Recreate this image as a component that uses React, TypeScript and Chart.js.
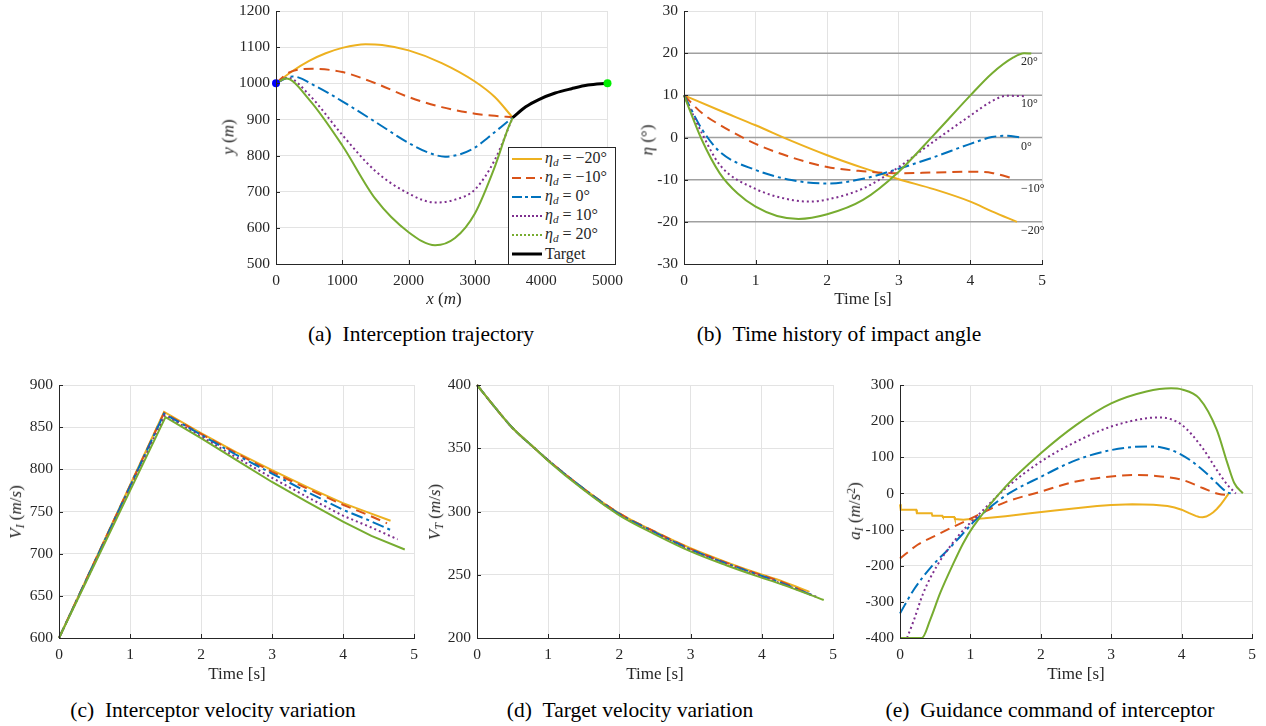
import React, { useEffect, useRef } from "react";
import { Chart, registerables } from "chart.js";
Chart.register(...registerables);

const SERIF = '"Liberation Serif", "Times New Roman", serif';
const AXIS = "#262626";
const GRID = "#e3e3e3";
const REF = "#a0a0a0";
const ORANGE = "#EDB120";
const RED = "#D95319";
const BLUE = "#0072BD";
const PURPLE = "#7E2F8E";
const GREEN = "#77AC30";

// ---------- (a) Interception trajectory ----------
const A_X_M20 = [0, 250, 500, 750, 1000, 1350, 1600, 2000, 2500, 3000, 3300, 3570];
const A_Y_M20 = [1000, 1034, 1062, 1083, 1098, 1108, 1106, 1091, 1056, 1005, 962, 905];
const A_X_M10 = [0, 200, 550, 1000, 1500, 2000, 2500, 3000, 3300, 3570];
const A_Y_M10 = [1000, 1030, 1040, 1031, 1000, 962, 934, 916, 910, 906];
const A_X_0 = [0, 250, 600, 1000, 1500, 2000, 2300, 2550, 2800, 3000, 3200, 3400, 3570];
const A_Y_0 = [1000, 1019, 992, 950, 893, 835, 808, 797, 805, 822, 850, 880, 905];
const A_X_10 = [0, 180, 500, 1000, 1500, 2000, 2400, 2700, 3000, 3300, 3570];
const A_Y_10 = [1000, 1015, 968, 857, 757, 695, 670, 678, 706, 788, 905];
const A_X_20 = [0, 150, 500, 1000, 1500, 2000, 2400, 2700, 3000, 3300, 3500, 3570];
const A_Y_20 = [1000, 1013, 955, 828, 680, 588, 552, 572, 640, 769, 875, 905];
const TARGET_X = [3570, 3767, 3964, 4211, 4458, 4705, 5000];
const TARGET_Y = [905, 935, 955, 973, 985, 995, 1000];
const START_PT_X = [0];
const START_PT_Y = [1000];
const END_PT_X = [5000];
const END_PT_Y = [1000];
const A_X_TICKS = [0, 5000, 1000];
const A_Y_TICKS = [500, 1200, 100];

// ---------- (b) Impact angle ----------
const B_T_M20 = [0, 0.5, 1, 1.5, 2, 2.5, 3, 3.5, 4, 4.3, 4.65];
const B_E_M20 = [10, 6.4, 2.9, -0.8, -4.2, -7.2, -9.9, -12.3, -15.2, -17.5, -20];
const B_T_M10 = [0, 0.25, 0.5, 1, 1.5, 2, 2.5, 3, 3.5, 4, 4.3, 4.62];
const B_E_M10 = [10, 5.8, 3, -1.5, -4.7, -7, -8, -8.5, -8.3, -8.1, -8.4, -9.8];
const B_T_0 = [0, 0.25, 0.5, 1, 1.5, 2, 2.5, 3, 3.5, 4, 4.3, 4.5, 4.7];
const B_E_0 = [10, 2, -3.4, -7.7, -10.1, -10.9, -9.8, -7.4, -4.6, -1.5, 0.1, 0.4, 0];
const B_T_10 = [0, 0.25, 0.5, 1, 1.5, 1.75, 2, 2.5, 3, 3.5, 4, 4.3, 4.5, 4.75];
const B_E_10 = [10, 1, -6.5, -12.2, -14.8, -15.2, -14.7, -12.1, -7, -0.8, 5.2, 8.6, 9.9, 9.8];
const B_T_20 = [0, 0.25, 0.5, 0.75, 1, 1.3, 1.6, 2, 2.5, 3, 3.5, 4, 4.3, 4.6, 4.75, 4.85];
const B_E_20 = [10, -0.6, -8.5, -13.3, -16.4, -18.6, -19.3, -18.2, -14.8, -8.1, 0.8, 10, 15.2, 19, 20, 19.9];
const B_REF_LEVELS = [20, 10, 0, -10, -20];
const B_REF_LABELS = ["20°", "10°", "0°", "−10°", "−20°"];
const B_X_TICKS = [0, 5, 1];
const B_Y_TICKS = [-30, 30, 10];

// ---------- (c) Interceptor velocity ----------
const C_T_M20 = [0, 1.48, 2, 2.5, 3, 3.5, 4, 4.35, 4.67];
const C_V_M20 = [600, 868, 843, 820, 799, 779, 760, 749, 739];
const C_T_M10 = [0, 1.48, 2, 2.5, 3, 3.5, 4, 4.35, 4.62];
const C_V_M10 = [600, 867, 842, 819, 797, 777, 758, 746, 736];
const C_T_0 = [0, 1.48, 2, 2.5, 3, 3.5, 4, 4.35, 4.7];
const C_V_0 = [600, 866, 841, 817, 795, 773, 752, 740, 727];
const C_T_10 = [0, 1.49, 2, 2.5, 3, 3.5, 4, 4.4, 4.77];
const C_V_10 = [600, 864, 839, 814, 790, 767, 745, 731, 717];
const C_T_20 = [0, 1.5, 2, 2.5, 3, 3.5, 4, 4.4, 4.87];
const C_V_20 = [600, 862, 837, 811, 785, 761, 738, 721, 705];
const C_X_TICKS = [0, 5, 1];
const C_Y_TICKS = [600, 900, 50];

// ---------- (d) Target velocity ----------
const D_T_M20 = [0, 0.25, 0.5, 0.81, 1, 1.5, 2, 2.5, 3, 3.5, 3.9, 4.3, 4.67];
const D_V_M20 = [400, 382.5, 366, 350, 340.5, 318, 298.5, 284, 271, 260, 252, 244.5, 236.5];
const D_T_M10 = [0, 0.25, 0.5, 0.81, 1, 1.5, 2, 2.5, 3, 3.5, 3.9, 4.3, 4.62];
const D_V_M10 = [400, 382.5, 366, 350, 340.5, 318, 298.5, 284, 270.5, 259.5, 251.5, 244, 236];
const D_T_0 = [0, 0.25, 0.5, 0.81, 1, 1.5, 2, 2.5, 3, 3.5, 3.9, 4.3, 4.7];
const D_V_0 = [400, 382.5, 366, 350, 340.5, 318, 298, 283.5, 270, 259, 251, 243, 234];
const D_T_10 = [0, 0.25, 0.5, 0.81, 1, 1.5, 2, 2.5, 3, 3.5, 3.9, 4.3, 4.77];
const D_V_10 = [400, 382.5, 366, 350, 340.5, 317.5, 297.5, 283, 269.5, 258.5, 250.5, 242.5, 232.5];
const D_T_20 = [0, 0.25, 0.5, 0.81, 1, 1.5, 2, 2.5, 3, 3.5, 3.9, 4.3, 4.87];
const D_V_20 = [400, 382.5, 366, 350, 340, 317, 297, 282, 268.5, 257.5, 249.5, 242, 230];
const D_X_TICKS = [0, 5, 1];
const D_Y_TICKS = [200, 400, 50];

// ---------- (e) Guidance command ----------
const E_T_M20 = [0, 0.01, 0.23, 0.24, 0.45, 0.46, 0.6, 0.61, 0.77, 0.78, 0.9, 1.0, 1.05, 1.1, 1.2, 1.5, 1.85, 2.2, 2.5, 2.8, 3, 3.3, 3.6, 3.8, 3.9, 4.0, 4.1, 4.2, 4.25, 4.3, 4.35, 4.4, 4.45, 4.5, 4.55, 4.6, 4.67];
const E_A_M20 = [-30, -45, -45, -55, -55, -62, -62, -65, -65, -71, -73, -71, -74, -70, -69, -63, -55, -47, -41, -35, -32, -30, -31, -35, -39, -45, -54, -62, -65, -66, -64, -59, -52, -43, -32, -19, 0];
const E_T_M10 = [0, 0.25, 0.5, 0.75, 1, 1.5, 2, 2.5, 3, 3.3, 3.6, 4, 4.3, 4.5, 4.62, 4.65];
const E_A_M10 = [-180, -142, -117, -93, -70, -24, 5, 33, 47, 51, 49, 38, 15, 0, -4, 0];
const E_T_0 = [0, 0.2, 0.45, 0.7, 0.9, 1.05, 1.5, 2, 2.5, 3, 3.5, 3.7, 4, 4.3, 4.5, 4.65, 4.7];
const E_A_0 = [-332, -265, -202, -152, -110, -78, -6, 46, 92, 120, 130, 128, 107, 65, 28, 3, 0];
const E_T_10 = [0.1, 0.2, 0.33, 0.52, 0.71, 0.9, 1.09, 1.5, 2, 2.5, 3, 3.5, 3.7, 4, 4.3, 4.5, 4.65, 4.77];
const E_A_10 = [-400, -349, -276, -202, -147, -101, -64, 14, 88, 143, 185, 208, 210, 190, 125, 65, 24, 0];
const E_T_20 = [0, 0.31, 0.43, 0.57, 0.76, 0.9, 1.04, 1.5, 2, 2.5, 3, 3.5, 3.85, 4, 4.25, 4.5, 4.65, 4.75, 4.87];
const E_A_20 = [-400, -400, -349, -276, -193, -137, -92, 19, 111, 189, 249, 282, 291, 288, 263, 176, 84, 28, 0];
const E_X_TICKS = [0, 5, 1];
const E_Y_TICKS = [-400, 300, 100];

// ---------- legend / styles ----------
const LEGEND_ANGLES = ["−20°", "−10°", "0°", "10°", "20°"];
const STYLES = [
  { color: ORANGE, dash: [] as number[] },
  { color: RED, dash: [10, 6] },
  { color: BLUE, dash: [12, 4, 3, 4] },
  { color: PURPLE, dash: [2, 3] },
  { color: GREEN, dash: [] as number[] },
];
const LEGEND_DASH = ["", "9 5", "10 3 3 3", "2 2", "2 2"];

// layout
const YW = 50, PT = 18, PR = 18, XH = 28;

function pts(xs: number[], ys: number[]) {
  return xs.map((x, i) => ({ x, y: ys[i] }));
}

function line(xs: number[], ys: number[], idx: number, smooth = true) {
  const st = STYLES[idx];
  return {
    data: pts(xs, ys),
    borderColor: st.color,
    backgroundColor: st.color,
    borderWidth: 2,
    borderDash: st.dash,
    pointRadius: 0,
    fill: false,
    clip: false,
    order: 10 - idx,
    tension: smooth ? 0.4 : 0,
    cubicInterpolationMode: smooth ? "monotone" : "default",
  };
}

function makeScales(xr: number[], yr: number[]) {
  const base = (r: number[], pad: number) => ({
    type: "linear",
    min: r[0],
    max: r[1],
    grid: { color: GRID, lineWidth: 1, drawTicks: false },
    border: { display: true, color: AXIS, width: 1, z: 1 },
    ticks: {
      stepSize: r[2],
      color: AXIS,
      padding: pad,
      autoSkip: false,
      maxRotation: 0,
      font: { family: SERIF, size: 15.5 },
      callback: (v: any) => String(v),
    },
  });
  const x: any = base(xr, 8);
  x.afterFit = (s: any) => { s.height = XH; };
  const y: any = base(yr, 6);
  y.afterFit = (s: any) => { s.width = YW; };
  return { x, y };
}

// small inward tick marks along the left and bottom axes
const tickMarkPlugin = {
  id: "tickMarks",
  afterDraw(chart: any) {
    const { ctx, chartArea, scales } = chart;
    ctx.save();
    ctx.strokeStyle = AXIS;
    ctx.lineWidth = 1;
    scales.x.ticks.forEach((t: any) => {
      const px = Math.round(scales.x.getPixelForValue(t.value)) + 0.5;
      ctx.beginPath();
      ctx.moveTo(px, chartArea.bottom);
      ctx.lineTo(px, chartArea.bottom - 4);
      ctx.stroke();
    });
    scales.y.ticks.forEach((t: any) => {
      const py = Math.round(scales.y.getPixelForValue(t.value)) + 0.5;
      ctx.beginPath();
      ctx.moveTo(chartArea.left, py);
      ctx.lineTo(chartArea.left + 4, py);
      ctx.stroke();
    });
    ctx.restore();
  },
};

function makeConfig(datasets: any[], xr: number[], yr: number[], plugins: any[] = []) {
  return {
    type: "line",
    data: { datasets },
    options: {
      responsive: false,
      maintainAspectRatio: false,
      animation: false,
      events: [],
      layout: { padding: { top: PT, right: PR, left: 0, bottom: 0 } },
      plugins: { legend: { display: false }, tooltip: { enabled: false } },
      scales: makeScales(xr, yr),
    },
    plugins: [...plugins, tickMarkPlugin],
  };
}

const refPlugin = {
  id: "refLines",
  beforeDatasetsDraw(chart: any) {
    const { ctx, chartArea, scales } = chart;
    ctx.save();
    ctx.strokeStyle = REF;
    ctx.lineWidth = 1.5;
    B_REF_LEVELS.forEach((v) => {
      const py = scales.y.getPixelForValue(v);
      ctx.beginPath();
      ctx.moveTo(chartArea.left, py);
      ctx.lineTo(chartArea.right, py);
      ctx.stroke();
    });
    ctx.restore();
  },
  afterDatasetsDraw(chart: any) {
    const { ctx, chartArea, scales } = chart;
    ctx.save();
    ctx.fillStyle = AXIS;
    ctx.font = `12px ${SERIF}`;
    ctx.textAlign = "left";
    ctx.textBaseline = "top";
    B_REF_LEVELS.forEach((v, i) => {
      const py = scales.y.getPixelForValue(v);
      ctx.fillText(B_REF_LABELS[i], chartArea.right - 21, py + 3);
    });
    ctx.restore();
  },
};

function configA() {
  const ds: any[] = [
    line(A_X_M20, A_Y_M20, 0),
    line(A_X_M10, A_Y_M10, 1),
    line(A_X_0, A_Y_0, 2),
    line(A_X_10, A_Y_10, 3),
    line(A_X_20, A_Y_20, 4),
    {
      data: pts(TARGET_X, TARGET_Y), borderColor: "#000000", borderWidth: 3, pointRadius: 0,
      fill: false, clip: false, order: 2, tension: 0.4, cubicInterpolationMode: "monotone",
    },
    {
      data: pts(START_PT_X, START_PT_Y), showLine: false, pointRadius: 4, pointBorderWidth: 0,
      pointBackgroundColor: "#0000ff", borderColor: "#0000ff", clip: false, order: 0,
    },
    {
      data: pts(END_PT_X, END_PT_Y), showLine: false, pointRadius: 4, pointBorderWidth: 0,
      pointBackgroundColor: "#00ee00", borderColor: "#00ee00", clip: false, order: 0,
    },
  ];
  return makeConfig(ds, A_X_TICKS, A_Y_TICKS);
}

function configB() {
  return makeConfig(
    [line(B_T_M20, B_E_M20, 0), line(B_T_M10, B_E_M10, 1), line(B_T_0, B_E_0, 2), line(B_T_10, B_E_10, 3), line(B_T_20, B_E_20, 4)],
    B_X_TICKS, B_Y_TICKS, [refPlugin]
  );
}
function configC() {
  return makeConfig(
    [line(C_T_M20, C_V_M20, 0, false), line(C_T_M10, C_V_M10, 1, false), line(C_T_0, C_V_0, 2, false), line(C_T_10, C_V_10, 3, false), line(C_T_20, C_V_20, 4, false)],
    C_X_TICKS, C_Y_TICKS
  );
}
function configD() {
  return makeConfig(
    [line(D_T_M20, D_V_M20, 0), line(D_T_M10, D_V_M10, 1), line(D_T_0, D_V_0, 2), line(D_T_10, D_V_10, 3), line(D_T_20, D_V_20, 4)],
    D_X_TICKS, D_Y_TICKS
  );
}
function configE() {
  return makeConfig(
    [line(E_T_M20, E_A_M20, 0, false), line(E_T_M10, E_A_M10, 1), line(E_T_0, E_A_0, 2), line(E_T_10, E_A_10, 3), line(E_T_20, E_A_20, 4)],
    E_X_TICKS, E_Y_TICKS
  );
}

type Geo = { pl: number; pt: number; pr: number; pb: number };
const GEO_A: Geo = { pl: 276, pt: 11, pr: 613, pb: 264 };
const GEO_B: Geo = { pl: 684, pt: 11, pr: 1042, pb: 264 };
const GEO_C: Geo = { pl: 59, pt: 385, pr: 414, pb: 638 };
const GEO_D: Geo = { pl: 477, pt: 385, pr: 833, pb: 638 };
const GEO_E: Geo = { pl: 900, pt: 385, pr: 1252, pb: 638 };

function Panel({ geo, build }: { geo: Geo; build: () => any }) {
  const ref = useRef<HTMLCanvasElement>(null);
  const w = geo.pr - geo.pl + YW + PR;
  const h = geo.pb - geo.pt + PT + XH;
  useEffect(() => {
    const chart = new Chart(ref.current as HTMLCanvasElement, build());
    return () => chart.destroy();
  }, []);
  return (
    <canvas
      ref={ref}
      width={w}
      height={h}
      style={{ position: "absolute", left: geo.pl - YW, top: geo.pt - PT, width: w, height: h }}
    />
  );
}

const textBase: React.CSSProperties = {
  position: "absolute",
  whiteSpace: "nowrap",
  fontFamily: SERIF,
  color: AXIS,
  lineHeight: 1,
};

function Label({ x, y, size, rotate, children, color }: any) {
  return (
    <div
      style={{
        ...textBase,
        left: x,
        top: y,
        fontSize: size,
        color: color || AXIS,
        transform: `translate(-50%, -50%)${rotate ? " rotate(-90deg)" : ""}`,
      }}
    >
      {children}
    </div>
  );
}

const subStyle: React.CSSProperties = { fontSize: "0.7em", verticalAlign: "-0.25em" };
const supStyle: React.CSSProperties = { fontSize: "0.7em", verticalAlign: "0.45em" };

function Legend() {
  const rows = LEGEND_ANGLES.map((a, i) => (
    <div key={i} style={{ display: "flex", alignItems: "center", height: 19 }}>
      <svg width={30} height={6} style={{ marginLeft: 3, marginRight: 3 }}>
        <line x1={0} y1={3} x2={30} y2={3} stroke={STYLES[i].color} strokeWidth={2}
          strokeDasharray={LEGEND_DASH[i] || undefined} />
      </svg>
      <span style={{ fontFamily: SERIF, fontSize: 16, color: AXIS, whiteSpace: "nowrap" }}>
        <i>η</i><span style={subStyle}><i>d</i></span> = {a}
      </span>
    </div>
  ));
  return (
    <div
      style={{
        position: "absolute", left: 508, top: 147, width: 106, height: 115,
        border: `1px solid ${AXIS}`, background: "#ffffff", paddingTop: 1,
      }}
    >
      {rows}
      <div style={{ display: "flex", alignItems: "center", height: 19 }}>
        <svg width={30} height={6} style={{ marginLeft: 3, marginRight: 3 }}>
          <line x1={0} y1={3} x2={30} y2={3} stroke="#000000" strokeWidth={3} />
        </svg>
        <span style={{ fontFamily: SERIF, fontSize: 16, color: AXIS }}>Target</span>
      </div>
    </div>
  );
}

export default function App() {
  return (
    <div style={{ position: "absolute", left: 0, top: 0, width: 1266, height: 726, overflow: "hidden", background: "#ffffff" }}>
      <Panel geo={GEO_A} build={configA} />
      <Panel geo={GEO_B} build={configB} />
      <Panel geo={GEO_C} build={configC} />
      <Panel geo={GEO_D} build={configD} />
      <Panel geo={GEO_E} build={configE} />
      <Legend />

      {/* axis titles */}
      <Label x={228} y={137} size={17} rotate><i>y</i> (<i>m</i>)</Label>
      <Label x={444} y={298} size={17}><i>x</i> (<i>m</i>)</Label>
      <Label x={647} y={140} size={17} rotate><i>η</i> (°)</Label>
      <Label x={863} y={298} size={17}>Time [s]</Label>
      <Label x={17} y={512} size={17} rotate><i>V</i><span style={subStyle}><i>I</i></span> (<i>m</i>/<i>s</i>)</Label>
      <Label x={237} y={673} size={17}>Time [s]</Label>
      <Label x={436} y={512} size={17} rotate><i>V</i><span style={subStyle}><i>T</i></span> (<i>m</i>/<i>s</i>)</Label>
      <Label x={655} y={673} size={17}>Time [s]</Label>
      <Label x={856} y={511} size={17} rotate><i>a</i><span style={subStyle}><i>I</i></span> (<i>m</i>/<i>s</i><span style={supStyle}>2</span>)</Label>
      <Label x={1076} y={673} size={17}>Time [s]</Label>

      {/* captions */}
      <Label x={421} y={335} size={21.5} color="#000000">(a)&nbsp;&nbsp;Interception trajectory</Label>
      <Label x={839} y={335} size={21.5} color="#000000">(b)&nbsp;&nbsp;Time history of impact angle</Label>
      <Label x={213} y={711} size={21.5} color="#000000">(c)&nbsp;&nbsp;Interceptor velocity variation</Label>
      <Label x={630} y={711} size={21.5} color="#000000">(d)&nbsp;&nbsp;Target velocity variation</Label>
      <Label x={1050} y={711} size={21.5} color="#000000">(e)&nbsp;&nbsp;Guidance command of interceptor</Label>
    </div>
  );
}
